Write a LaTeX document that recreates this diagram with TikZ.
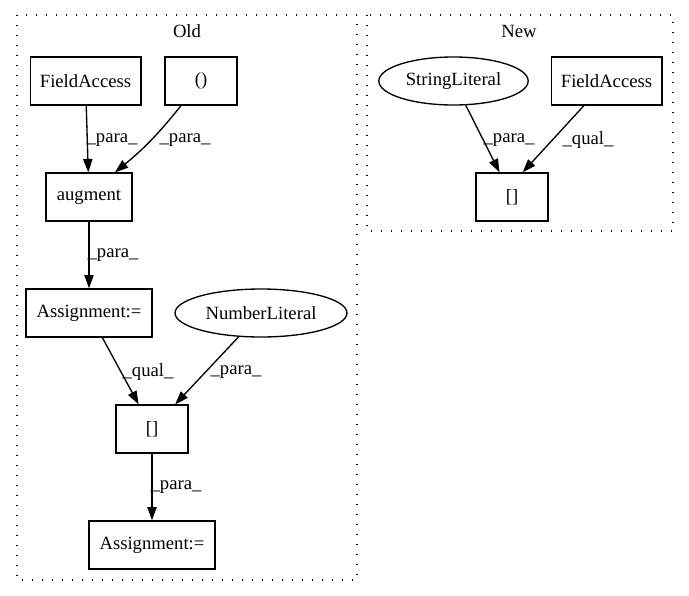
\documentclass[tikz,border=0pt]{standalone}
\usepackage{fontspec}
\setmainfont{Liberation Serif}
\usetikzlibrary{arrows.meta,shapes.geometric}
\begin{document}
\begin{tikzpicture}[x=0.75pt,y=-0.75pt,
  lbl/.style={font=\fontsize{14}{16}\selectfont},
  box/.style={lbl,draw,rectangle,inner sep=0pt,minimum height=36pt,line width=1pt},
  oval/.style={lbl,draw,ellipse,inner sep=0pt,minimum height=36pt,line width=1pt},
  cluster/.style={draw,line width=1pt,dash pattern=on 1pt off 6.5pt},
  edge/.style={line width=1pt,-{Triangle[length=10pt,width=7pt]}},
  elabel/.style={lbl,inner sep=0pt}]
\useasboundingbox (0,0) rectangle (689,596);
% clusters
\draw[cluster] (17,15) rectangle (357,580);
\draw[cluster] (367,15) rectangle (673,231);
\node[lbl] (oldt) at (187,31) {Old};
\node[lbl] (newt) at (519,31) {New};
% Old nodes
\node[box,minimum width=83pt] (fa) at (85.5,81) {FieldAccess};
\node[box,minimum width=54pt] (par) at (201,81) {()};
\node[box,minimum width=64.5pt] (aug) at (89,197) {augment};
\node[box,minimum width=94.5pt] (as1) at (89,313) {Assignment:=};
\node[oval,minimum width=129pt] (num) at (261,313) {NumberLiteral};
\node[box,minimum width=54pt] (idx) at (152,429) {[]};
\node[box,minimum width=94.5pt] (as2) at (152,545) {Assignment:=};
% New nodes
\node[oval,minimum width=112pt] (str) at (453.5,81) {StringLiteral};
\node[box,minimum width=83pt] (fa2) at (606.5,81) {FieldAccess};
\node[box,minimum width=54pt] (idx2) at (512,197) {[]};
% edges
\draw[edge] (fa) -- (aug);
\draw[edge] ([xshift=-15pt]par.south) to[bend left=6] ([xshift=19.5pt]aug.north);
\draw[edge] (aug) -- (as1);
\draw[edge] (as1) -- (idx);
\draw[edge] (num) -- (idx);
\draw[edge] (idx) -- (as2);
\draw[edge] (str) -- (idx2);
\draw[edge] (fa2) -- ([xshift=8pt]idx2.north);
% edge labels
\node[elabel] (l1) at (112,140) {\_para\_};
\node[elabel] (l2) at (185,140) {\_para\_};
\node[elabel] (l3) at (113,255) {\_para\_};
\node[elabel] (l4) at (148,372) {\_qual\_};
\node[elabel] (l5) at (236,372) {\_para\_};
\node[elabel] (l6) at (176,487) {\_para\_};
\node[elabel] (l7) at (509,140) {\_para\_};
\node[elabel] (l8) at (588,140) {\_qual\_};
\end{tikzpicture}
\end{document}
